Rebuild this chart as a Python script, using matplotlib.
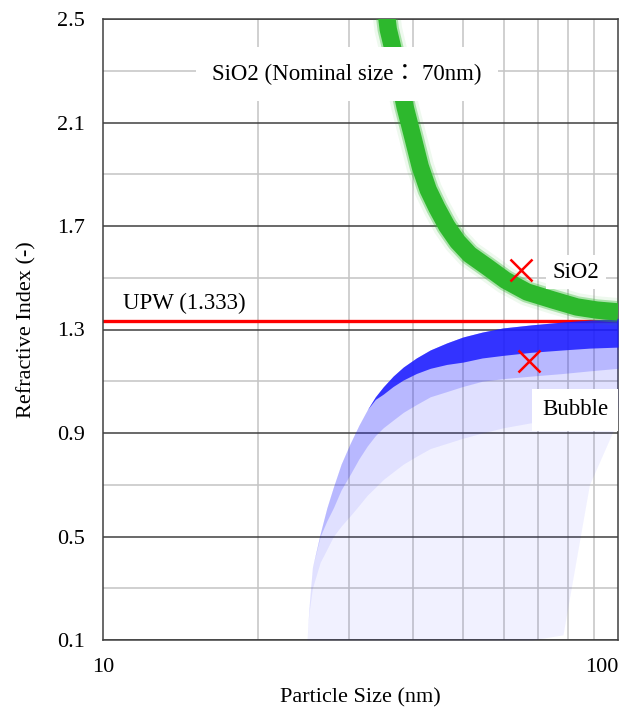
import numpy as np
import matplotlib
matplotlib.use('Agg')
import matplotlib.pyplot as plt
from matplotlib.ticker import NullFormatter

plt.rcParams['font.family'] = ['Liberation Serif', 'Noto Sans CJK JP']

# SiO2 band (centre line)
sio2_x = [35.0, 35.8, 36.6, 37.6, 38.6, 40.0, 41.3, 42.8, 44.5, 46.5, 48.8, 51.5,
          55.7, 60.5, 66.6, 74.8, 83.2, 91.0, 100.0]
sio2_y = [2.62, 2.46, 2.38, 2.27, 2.16, 2.04, 1.93, 1.84, 1.77, 1.70, 1.64, 1.59,
          1.542, 1.49, 1.445, 1.414, 1.387, 1.375, 1.368]

# Bubble cloud: upper edge and lower edges of the density layers
bubble_x = [24.9, 25.1, 25.5, 26.4, 27.2, 28.0, 29.0, 30.2, 31.4, 32.6, 33.8, 35.0,
            36.6, 38.3, 40.6, 43.2, 46.5, 50.0, 54.5, 59.8, 68.0, 78.2, 88.0, 100.0]
bubble_top = [0.10, 0.22, 0.38, 0.51, 0.61, 0.69, 0.78, 0.86, 0.93, 0.99, 1.04, 1.078,
              1.12, 1.155, 1.19, 1.221, 1.248, 1.271, 1.29, 1.306, 1.318, 1.329, 1.336, 1.343]
bubble_faint_lo = [0.10, 0.10, 0.10, 0.10, 0.10, 0.10, 0.10, 0.10, 0.10, 0.10, 0.10, 0.10,
                   0.10, 0.10, 0.10, 0.10, 0.10, 0.10, 0.10, 0.10, 0.10, 0.12, 0.70, 0.95]
bubble_mid_lo = [0.10, 0.20, 0.30, 0.40, 0.45, 0.50, 0.54, 0.58, 0.62, 0.66, 0.69, 0.72,
                 0.75, 0.78, 0.81, 0.84, 0.86, 0.88, 0.90, 0.92, 0.94, 0.96, 0.98, 1.00]
bubble_strong_lo = [0.10, 0.22, 0.38, 0.50, 0.56, 0.61, 0.68, 0.74, 0.80, 0.85, 0.89, 0.92,
                    0.95, 0.98, 1.01, 1.04, 1.06, 1.08, 1.10, 1.11, 1.12, 1.13, 1.14, 1.15]
bubble_dense_lo = [0.10, 0.22, 0.38, 0.51, 0.61, 0.69, 0.78, 0.86, 0.93, 0.99, 1.03, 1.05,
                   1.08, 1.105, 1.13, 1.15, 1.165, 1.174, 1.19, 1.20, 1.212, 1.221, 1.228, 1.232]

upw = 1.333
cross_x = [64.8, 67.3]
cross_y = [1.530, 1.179]

yticks = [0.1, 0.5, 0.9, 1.3, 1.7, 2.1, 2.5]
yminor = [0.3, 0.7, 1.1, 1.5, 1.9, 2.3]
xminor = [20, 30, 40, 50, 60, 70, 80, 90]

fig = plt.figure(figsize=(6.37, 7.12), dpi=100)
ax = fig.add_axes([103/637, 72/712, 515/637, 621/712])
ax.set_xscale('log')
ax.set_xlim(10, 100)
ax.set_ylim(0.1, 2.5)

# grid
ax.set_yticks(yticks)
ax.set_yticks(yminor, minor=True)
ax.set_xticks([10, 100])
ax.set_xticks(xminor, minor=True)
ax.xaxis.set_minor_formatter(NullFormatter())
ax.set_xticklabels(['10', '100'])
ax.set_yticklabels(['%.1f' % v for v in yticks])
ax.grid(True, which='major', axis='y', color='#404040', lw=1.1, zorder=0)
ax.grid(True, which='minor', axis='y', color='#c4c4c4', lw=1.1, zorder=0)
ax.grid(True, which='minor', axis='x', color='#c4c4c4', lw=1.1, zorder=0)
ax.set_axisbelow(True)
ax.tick_params(which='both', length=0)
ax.tick_params(axis='y', pad=13, labelsize=16)
ax.tick_params(axis='x', pad=13, labelsize=16)
ax.get_xticklabels()[-1].set_horizontalalignment('right')
for s in ax.spines.values():
    s.set_color('#404040')
    s.set_linewidth(1.1)

# UPW line
ax.axhline(upw, color='#ff0000', lw=2.4, zorder=2)

# bubble cloud
blue = '#1c1cff'
ax.fill_between(bubble_x, bubble_faint_lo, bubble_top, color=blue, alpha=0.06, lw=0, zorder=3)
ax.fill_between(bubble_x, bubble_mid_lo, bubble_top, color=blue, alpha=0.08, lw=0, zorder=3)
ax.fill_between(bubble_x, bubble_strong_lo, bubble_top, color=blue, alpha=0.2, lw=0, zorder=3)
ax.fill_between(bubble_x, bubble_dense_lo, bubble_top, color=blue, alpha=0.85, lw=0, zorder=3)

# SiO2 band
green = '#2db82d'
ax.plot(sio2_x, sio2_y, color=green, lw=20, alpha=0.08, solid_capstyle='butt',
        solid_joinstyle='round', zorder=4)
ax.plot(sio2_x, sio2_y, color=green, lw=15.5, alpha=0.35, solid_capstyle='butt',
        solid_joinstyle='round', zorder=4)
ax.plot(sio2_x, sio2_y, color=green, lw=12.5, solid_capstyle='butt',
        solid_joinstyle='round', zorder=4)

ax.plot(cross_x, cross_y, 'x', color='#ff0000', ms=16, mew=1.8, zorder=6)

ax.text(29.8, 2.287, 'SiO2 (Nominal size： 70nm)', fontsize=16.5, ha='center', va='center',
        bbox=dict(boxstyle='square,pad=0.7', fc='white', ec='none'), zorder=7)
ax.text(10.93, 1.402, 'UPW (1.333)', fontsize=16.5, ha='left', va='center', zorder=7)
ax.text(82.9, 1.522, 'SiO2', fontsize=16.5, ha='center', va='center',
        bbox=dict(boxstyle='square,pad=0.3', fc='white', ec='none'), zorder=7)
ax.text(82.5, 0.989, 'Bubble', fontsize=16.5, ha='center', va='center',
        bbox=dict(boxstyle='square,pad=0.45', fc='white', ec='none'), zorder=7)

ax.set_xlabel('Particle Size (nm)', fontsize=16, labelpad=8)
ax.set_ylabel('Refractive Index (-)', fontsize=16, labelpad=15)

plt.savefig('out.png', dpi=100)
